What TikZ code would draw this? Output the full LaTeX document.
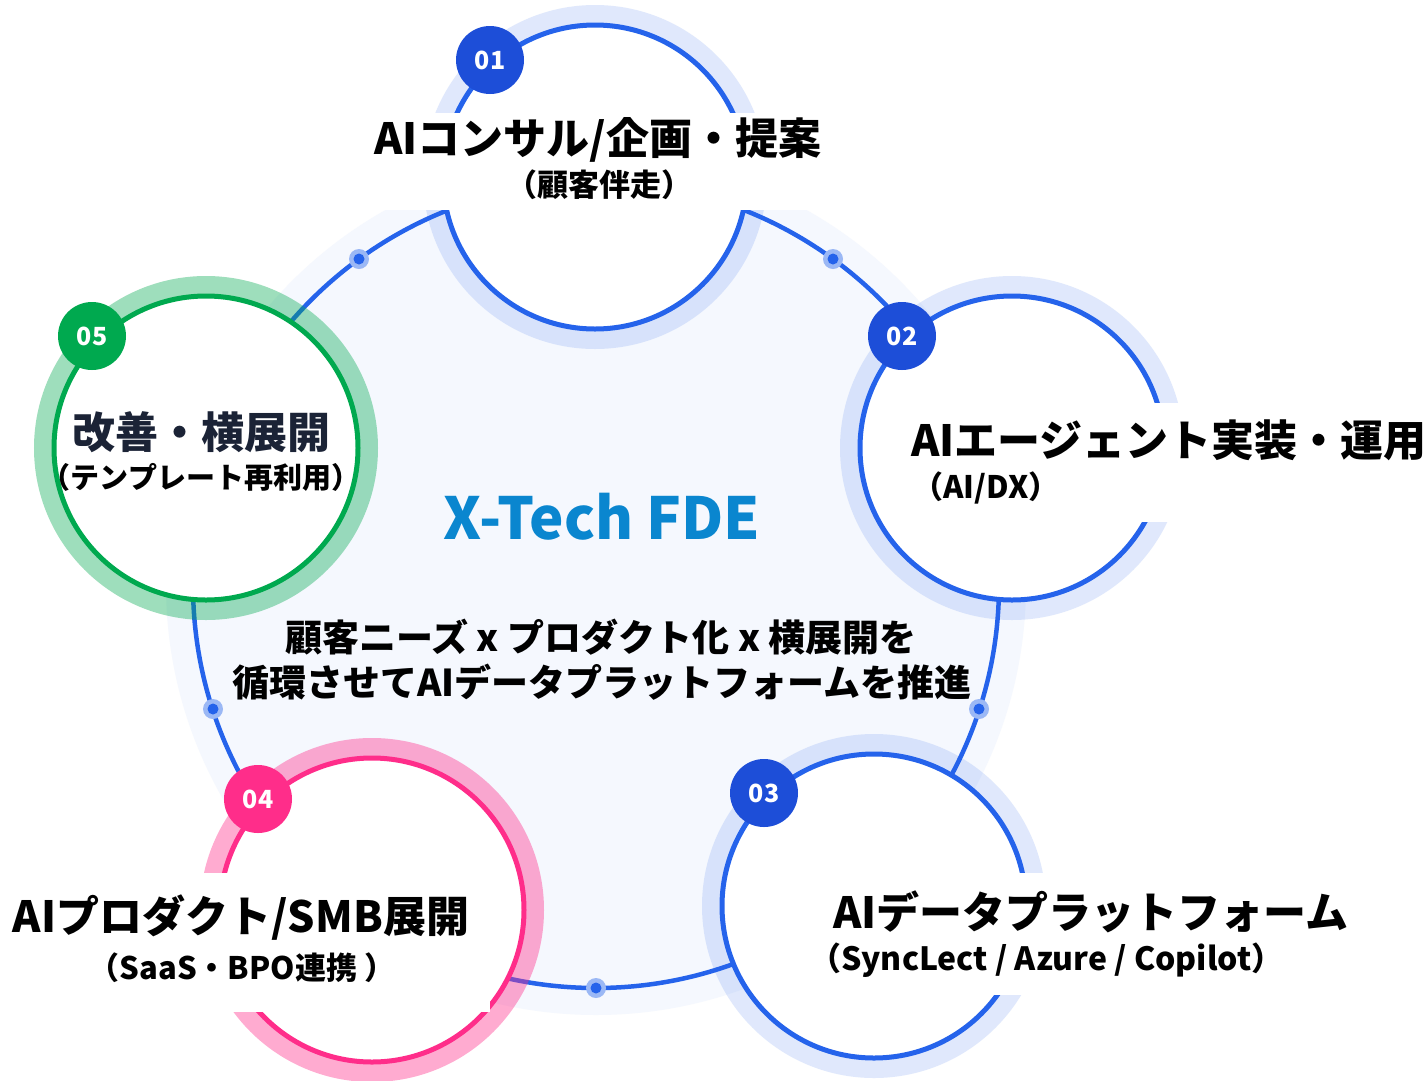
\documentclass[tikz,border=0pt]{standalone}
\usepackage{fontspec}
\setmainfont{Noto Sans CJK JP}
\definecolor{lineblue}{HTML}{2563EB}
\definecolor{badgeblue}{HTML}{1D4ED8}
\definecolor{grn}{HTML}{00A94F}
\definecolor{pnk}{HTML}{FF2D8A}
\definecolor{bgpale}{HTML}{F5F8FE}
\definecolor{titleblue}{HTML}{0A86CF}
\definecolor{navy}{HTML}{1B2336}
\definecolor{halodot}{HTML}{9BB8F5}
\tikzset{
  nodering/.style={circle, draw=#1, line width=5pt, fill=white, minimum size=304pt, inner sep=0pt},
  paleblue/.style={draw=lineblue, line width=20pt, opacity=0.14},
  palegreen/.style={draw=grn, line width=20pt, opacity=0.38},
  palepink/.style={draw=pnk, line width=20pt, opacity=0.40},
  badge/.style={circle, fill=#1, minimum size=68pt, inner sep=0pt, text=white,
    font=\fontsize{25}{25}\selectfont\bfseries},
  ttl/.style={inner sep=0pt, font=\fontsize{43}{50}\selectfont\bfseries},
  subttl/.style={inner sep=0pt, font=\fontsize{31}{36}\selectfont\bfseries},
  panel/.style={fill=white},
  dothalo/.style={circle, fill=halodot, minimum size=20pt, inner sep=0pt},
  dotcore/.style={circle, fill=lineblue, minimum size=11pt, inner sep=0pt},
}
\begin{document}
\begin{tikzpicture}[x=1pt,y=-1pt]
\useasboundingbox (0,0) rectangle (1425,1080);
\fill[white] (0,0) rectangle (1425,1080);
% hub
\coordinate (hub) at (596,585);
\fill[bgpale] (hub) circle[radius=430pt];
\draw[lineblue, line width=4.5pt] (hub) circle[radius=403pt];
% pale rings
\draw[paleblue] (595,177) circle[radius=162pt];
\draw[paleblue] (1012,448) circle[radius=162pt];
\draw[paleblue] (874,906) circle[radius=162pt];
\draw[palepink] (372,910) circle[radius=162pt];
\draw[palegreen] (206,448) circle[radius=162pt];
% node circles
\node[nodering=lineblue] (n1) at (595,177) {};
\node[nodering=lineblue] (n2) at (1012,448) {};
\node[nodering=lineblue] (n3) at (874,906) {};
\node[nodering=pnk] (n4) at (372,910) {};
\node[nodering=grn] (n5) at (206,448) {};
% dots on the cycle
\foreach \nm/\px/\py in {d12/833/259, d23/979/709, d34/596/988, d45/213/709, d51/359/259}{
  \node[dothalo] (\nm h) at (\px,\py) {};
  \node[dotcore] (\nm) at (\px,\py) {};
}
% label panels
\fill[panel] (368,113) rectangle (830,210);
\fill[panel] (905,403) rectangle (1425,522);
\fill[panel] (822,873) rectangle (1352,995);
\fill[panel] (4,873) rectangle (490,1012);
% labels
\node[ttl] (t1) at (598,140) {AIコンサル/企画・提案};
\node[subttl] (s1) at (599,185) {（顧客伴走）};
\node[ttl, anchor=west] (t2) at (911,440) {AIエージェント実装・運用};
\node[subttl, anchor=west] (s2) at (912,488) {（AI/DX）};
\node[ttl, anchor=west] (t3) at (833,912) {AIデータプラットフォーム};
\node[subttl, anchor=west, font=\fontsize{32}{36}\selectfont\bfseries] (s3) at (809,960) {（SyncLect / Azure / Copilot）};
\node[ttl] (t4) at (241,918) {AIプロダクト/SMB展開};
\node[subttl] (s4) at (242,968) {（SaaS・BPO連携 ）};
\node[ttl, text=navy] (t5) at (201,432) {改善・横展開};
\node[subttl, font=\fontsize{29}{34}\selectfont\bfseries] (s5) at (201,477) {（テンプレート再利用）};
% centre
\node[inner sep=0pt, text=titleblue, font=\fontsize{58}{64}\selectfont\bfseries] (hubtitle) at (602,517) {X-Tech FDE};
\node[inner sep=0pt, font=\fontsize{37}{42}\selectfont\bfseries] (hubl1) at (601,637) {顧客ニーズ x プロダクト化 x 横展開を};
\node[inner sep=0pt, font=\fontsize{37}{42}\selectfont\bfseries] (hubl2) at (602,682) {循環させてAIデータプラットフォームを推進};
% badges
\node[badge=badgeblue] (b1) at (490,60) {01};
\node[badge=badgeblue] (b2) at (902,336) {02};
\node[badge=badgeblue] (b3) at (764,793) {03};
\node[badge=pnk] (b4) at (258,799) {04};
\node[badge=grn] (b5) at (92,336) {05};
\end{tikzpicture}
\end{document}
